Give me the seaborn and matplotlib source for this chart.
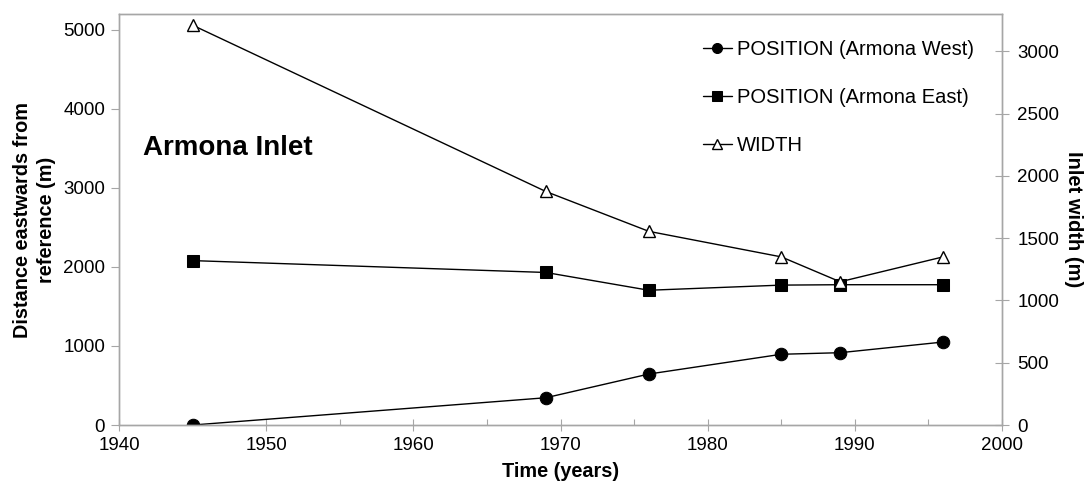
import matplotlib
matplotlib.use("Agg")
import matplotlib.pyplot as plt
from matplotlib.ticker import MultipleLocator
import pandas as pd
import seaborn as sns

# Survey years and measured inlet geometry
years = [1945, 1969, 1976, 1985, 1989, 1996]
pos_west = [0, 345, 645, 895, 915, 1050]
pos_east = [2080, 1930, 1705, 1770, 1775, 1775]
inlet_width = [3210, 1875, 1555, 1350, 1150, 1350]

labels = ["POSITION (Armona West)", "POSITION (Armona East)", "WIDTH"]

sns.set_theme(style="white")
plt.rcParams["font.family"] = ["Liberation Sans", "DejaVu Sans"]
plt.rcParams["text.color"] = "black"
plt.rcParams["axes.labelcolor"] = "black"
plt.rcParams["xtick.color"] = "black"
plt.rcParams["ytick.color"] = "black"

df = pd.DataFrame({"year": years, "west": pos_west, "east": pos_east,
                   "width": inlet_width})

fig = plt.figure(figsize=(10.85, 4.96), dpi=100)
ax = fig.add_axes([0.1097, 0.1431, 0.8138, 0.8287])
ax2 = ax.twinx()

lw = 1.0
sns.lineplot(data=df, x="year", y="west", ax=ax, color="black", lw=lw,
             marker="o", markersize=9, markeredgecolor="black",
             markerfacecolor="black", label=labels[0], legend=False)
sns.lineplot(data=df, x="year", y="east", ax=ax, color="black", lw=lw,
             marker="s", markersize=8.5, markeredgecolor="black",
             markerfacecolor="black", label=labels[1], legend=False)
sns.lineplot(data=df, x="year", y="width", ax=ax2, color="black", lw=lw,
             marker="^", markersize=8.5, markeredgecolor="black",
             markerfacecolor="white", markeredgewidth=1.0,
             label=labels[2], legend=False)

ax.set_xlim(1940, 2000)
ax.set_ylim(0, 5200)
ax2.set_ylim(0, 3300)
ax.xaxis.set_major_locator(MultipleLocator(10))
ax.xaxis.set_minor_locator(MultipleLocator(5))
ax.yaxis.set_major_locator(MultipleLocator(1000))
ax2.yaxis.set_major_locator(MultipleLocator(500))

spine_col = "#a6a6a6"
for a in (ax, ax2):
    for s in a.spines.values():
        s.set_color(spine_col)
        s.set_linewidth(1.0)

ax.tick_params(axis="x", which="major", direction="inout", length=9,
               width=0.8, color=spine_col, labelcolor="black",
               labelsize=13.5, pad=4, bottom=True)
ax.tick_params(axis="x", which="minor", direction="in", length=4,
               width=0.8, color=spine_col, bottom=True)
ax.tick_params(axis="y", which="major", direction="out", length=6,
               width=0.8, color=spine_col, labelcolor="black",
               labelsize=13.5, pad=4, left=True)
ax2.tick_params(axis="y", which="major", direction="inout", length=10,
                width=0.8, color=spine_col, labelcolor="black",
                labelsize=13.5, pad=6, right=True)

ax.set_xlabel("Time (years)", fontsize=14.3, fontweight="bold", labelpad=6)
ax.set_ylabel("Distance eastwards from\nreference (m)", fontsize=14.3,
              fontweight="bold", labelpad=5, linespacing=1.35)
ax2.set_ylabel("Inlet width (m)", fontsize=14.5, fontweight="bold",
               rotation=270, labelpad=17)

ax.text(1941.6, 3500, "Armona Inlet", fontsize=20, fontweight="bold",
        va="center", ha="left")

handles = ax.get_lines()[:2] + ax2.get_lines()[:1]
leg = ax2.legend(handles, labels, loc="upper left",
                 bbox_to_anchor=(0.661, 0.937), frameon=False,
                 fontsize=14.5, handlelength=1.45, handletextpad=0.25,
                 labelspacing=1.45, borderpad=0, borderaxespad=0,
                 markerscale=0.8)

fig.savefig("out.png", dpi=100)
